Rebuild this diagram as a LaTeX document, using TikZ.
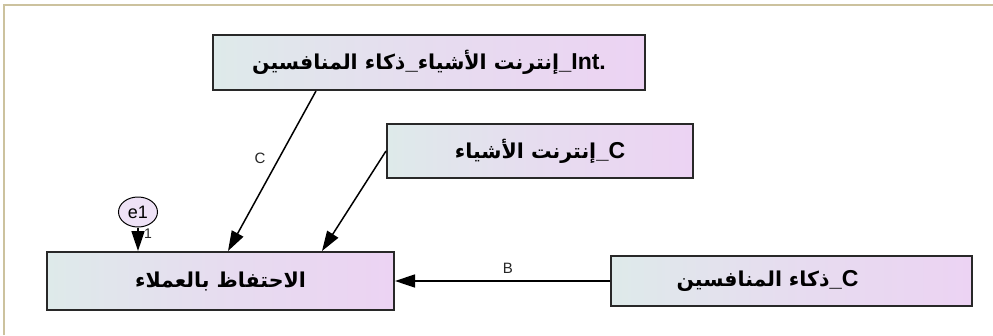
\documentclass[tikz,border=0pt]{standalone}
\usepackage{fontspec}
\setmainfont{Liberation Sans}
\newfontfamily\arabicfont[Script=Arabic]{DejaVu Sans}
\newfontfamily\latinbold{Liberation Sans}
\TeXXeTstate=1
\usetikzlibrary{arrows.meta,shapes.geometric}
\definecolor{frametan}{RGB}{204,194,158}
\definecolor{boxleft}{RGB}{222,234,234}
\definecolor{boxright}{RGB}{236,211,243}
\definecolor{boxedge}{RGB}{40,40,40}
\definecolor{errfill}{RGB}{238,226,246}
\newcommand{\lat}[1]{\beginL{\latinbold\bfseries\fontsize{23}{24}\selectfont #1}\endL}
\newcommand{\usc}{{\latinbold\bfseries\fontsize{22}{24}\selectfont\_}}
\tikzset{
  varbox/.style={draw=boxedge, line width=2pt, left color=boxleft, right color=boxright,
    middle color=boxright!60!boxleft, inner sep=0pt,
    font=\arabicfont\bfseries\fontsize{20.5}{22}\selectfont},
  errnode/.style={ellipse, draw=black, line width=1pt, fill=errfill, inner sep=0pt,
    font=\fontsize{18}{19}\selectfont},
  sempath/.style={draw=black, line width=1.5pt, -{Triangle[length=20pt,width=13pt]}},
  pathlabel/.style={font=\fontsize{15}{16}\selectfont, text=black!85},
}
\begin{document}
\begin{tikzpicture}[x=1pt,y=-1pt]
\useasboundingbox (0,0) rectangle (993,335);
\fill[white] (0,0) rectangle (993,335);
% page frame (top and left edges only)
\draw[frametan, line width=2pt] (4,335) -- (4,4.5) -- (993,4.5);

% observed variables
\node[varbox, minimum width=432pt, minimum height=55pt] (intx) at (429,62.5)
  {\beginR\lat{Int.}\usc إنترنت الأشياء\usc ذكاء المنافسين\endR};
\node[varbox, minimum width=306pt, minimum height=54pt] (iot) at (540,151)
  {\beginR\lat{C}\usc إنترنت الأشياء\endR};
\node[varbox, minimum width=347pt, minimum height=58pt] (ret) at (220.5,281)
  {\beginR الاحتفاظ بالعملاء\endR};
\node[varbox, minimum width=361pt, minimum height=50pt, text width=361pt, align=center] (comp) at (791.5,281)
  {\hspace*{-48pt}\beginR\lat{C}\usc ذكاء المنافسين\endR};

% error term
\node[errnode, minimum width=39pt, minimum height=30pt] (e1) at (138,212) {e1};

% paths
\draw[sempath] ([xshift=-113pt]intx.south) -- ([xshift=7.5pt]ret.north)
  node[pathlabel, pos=0.42, xshift=-19pt] (lc) {C};
\draw[sempath] (iot.west) -- ([xshift=101.5pt]ret.north);
\draw[sempath] (e1.south) -- (e1.south |- ret.north)
  node[pathlabel, pos=0.25, xshift=10pt, font=\fontsize{14}{15}\selectfont] (l1) {1};
\draw[sempath] (comp.west) -- (ret.east)
  node[pathlabel, pos=0.475, yshift=13pt] (lb) {B};
\end{tikzpicture}
\end{document}
